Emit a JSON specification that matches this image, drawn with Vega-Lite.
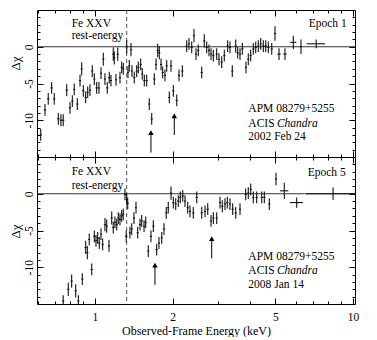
{
  "$schema": "https://vega.github.io/schema/vega-lite/v6.json",
  "padding": {"left": 8, "top": 9, "right": 0, "bottom": 0},
  "background": "white",
  "spacing": 0,
  "bounds": "flush",
  "config": {
    "view": {"stroke": "#000", "strokeWidth": 1},
    "axis": {"grid": false, "domain": false, "tickColor": "#000", "tickWidth": 1, "labelFont": "Liberation Serif", "labelFontSize": 11.5, "labelColor": "#000", "titleFont": "Liberation Serif", "titleFontSize": 12, "titleFontWeight": "normal", "titleColor": "#000", "labelFlush": false, "labelOverlap": false, "labelBound": false},
    "text": {"font": "Liberation Serif", "fontSize": 11.5, "color": "#000"}
  },
  "datasets": {
    "top": [
      {"e":0.616,"ex":0.007,"d":-12.0,"dy":0.8},{"e":0.640,"ex":0.007,"d":-8.6,"dy":0.8},{"e":0.659,"ex":0.007,"d":-7.1,"dy":0.8},{"e":0.679,"ex":0.007,"d":-5.6,"dy":0.8},{"e":0.695,"ex":0.007,"d":-7.1,"dy":0.8},{"e":0.721,"ex":0.008,"d":-9.8,"dy":0.8},{"e":0.738,"ex":0.008,"d":-10.0,"dy":0.8},{"e":0.753,"ex":0.008,"d":-10.0,"dy":0.8},{"e":0.777,"ex":0.008,"d":-5.9,"dy":0.8},{"e":0.800,"ex":0.008,"d":-8.3,"dy":0.8},{"e":0.817,"ex":0.008,"d":-7.4,"dy":0.8},{"e":0.831,"ex":0.008,"d":-5.8,"dy":0.8},{"e":0.854,"ex":0.008,"d":-7.8,"dy":0.8},{"e":0.875,"ex":0.008,"d":-4.6,"dy":0.8},{"e":0.888,"ex":0.008,"d":-3.0,"dy":0.9},{"e":0.901,"ex":0.009,"d":-6.0,"dy":0.8},{"e":0.920,"ex":0.009,"d":-6.9,"dy":0.8},{"e":0.937,"ex":0.009,"d":-6.2,"dy":0.8},{"e":0.956,"ex":0.009,"d":-5.9,"dy":0.8},{"e":0.976,"ex":0.009,"d":-3.3,"dy":0.8},{"e":0.994,"ex":0.009,"d":-4.4,"dy":0.8},{"e":1.015,"ex":0.01,"d":-5.6,"dy":0.8},{"e":1.036,"ex":0.01,"d":-5.6,"dy":0.8},{"e":1.055,"ex":0.01,"d":-3.6,"dy":0.8},{"e":1.077,"ex":0.01,"d":-1.7,"dy":0.9},{"e":1.093,"ex":0.01,"d":-4.4,"dy":0.8},{"e":1.116,"ex":0.011,"d":-5.6,"dy":0.8},{"e":1.136,"ex":0.011,"d":-4.2,"dy":0.8},{"e":1.153,"ex":0.011,"d":-4.6,"dy":0.8},{"e":1.177,"ex":0.011,"d":-1.0,"dy":0.9},{"e":1.188,"ex":0.011,"d":-1.5,"dy":0.9},{"e":1.206,"ex":0.011,"d":-4.5,"dy":0.8},{"e":1.225,"ex":0.012,"d":-1.0,"dy":0.9},{"e":1.250,"ex":0.012,"d":-4.2,"dy":0.8},{"e":1.269,"ex":0.012,"d":-2.8,"dy":0.8},{"e":1.287,"ex":0.012,"d":-3.0,"dy":0.8},{"e":1.327,"ex":0.012,"d":0.0,"dy":0.9},{"e":1.342,"ex":0.013,"d":-3.5,"dy":0.8},{"e":1.358,"ex":0.013,"d":-2.6,"dy":0.8},{"e":1.379,"ex":0.013,"d":-0.4,"dy":0.9},{"e":1.391,"ex":0.013,"d":-3.3,"dy":0.8},{"e":1.420,"ex":0.013,"d":-4.2,"dy":0.8},{"e":1.451,"ex":0.014,"d":-3.3,"dy":0.8},{"e":1.472,"ex":0.014,"d":-2.8,"dy":0.8},{"e":1.503,"ex":0.014,"d":-2.4,"dy":0.8},{"e":1.525,"ex":0.014,"d":-3.7,"dy":0.8},{"e":1.553,"ex":0.015,"d":-4.6,"dy":0.8},{"e":1.586,"ex":0.015,"d":-4.6,"dy":0.8},{"e":1.623,"ex":0.015,"d":-7.8,"dy":0.8},{"e":1.659,"ex":0.016,"d":-9.8,"dy":0.8},{"e":1.698,"ex":0.016,"d":-4.4,"dy":0.8},{"e":1.724,"ex":0.016,"d":-2.4,"dy":0.8},{"e":1.750,"ex":0.017,"d":-0.5,"dy":0.9},{"e":1.775,"ex":0.017,"d":-0.8,"dy":0.9},{"e":1.803,"ex":0.017,"d":-2.4,"dy":0.8},{"e":1.829,"ex":0.017,"d":-3.5,"dy":0.8},{"e":1.867,"ex":0.018,"d":-3.9,"dy":0.8},{"e":1.896,"ex":0.018,"d":-2.6,"dy":0.8},{"e":1.941,"ex":0.018,"d":-6.9,"dy":0.8},{"e":1.971,"ex":0.019,"d":-2.6,"dy":0.8},{"e":2.012,"ex":0.019,"d":-6.0,"dy":0.8},{"e":2.074,"ex":0.02,"d":-7.3,"dy":0.8},{"e":2.117,"ex":0.02,"d":-3.9,"dy":0.8},{"e":2.180,"ex":0.021,"d":-3.3,"dy":0.8},{"e":2.267,"ex":0.022,"d":0.1,"dy":0.8},{"e":2.314,"ex":0.022,"d":0.4,"dy":0.8},{"e":2.371,"ex":0.023,"d":-0.1,"dy":0.8},{"e":2.419,"ex":0.023,"d":1.5,"dy":0.9},{"e":2.463,"ex":0.024,"d":-1.0,"dy":0.8},{"e":2.514,"ex":0.024,"d":-0.5,"dy":0.8},{"e":2.592,"ex":0.025,"d":-3.5,"dy":0.8},{"e":2.652,"ex":0.025,"d":0.8,"dy":0.9},{"e":2.710,"ex":0.026,"d":-0.1,"dy":0.8},{"e":2.766,"ex":0.026,"d":-0.5,"dy":0.8},{"e":2.817,"ex":0.027,"d":-1.0,"dy":0.8},{"e":2.875,"ex":0.027,"d":-1.2,"dy":0.8},{"e":2.963,"ex":0.028,"d":-1.0,"dy":0.8},{"e":3.024,"ex":0.029,"d":-1.7,"dy":0.8},{"e":3.098,"ex":0.03,"d":-2.1,"dy":0.8},{"e":3.171,"ex":0.03,"d":-1.2,"dy":0.8},{"e":3.268,"ex":0.031,"d":0.1,"dy":0.8},{"e":3.336,"ex":0.032,"d":-0.1,"dy":0.8},{"e":3.405,"ex":0.032,"d":-3.3,"dy":0.8},{"e":3.511,"ex":0.033,"d":0.1,"dy":0.9},{"e":3.574,"ex":0.034,"d":-0.8,"dy":0.8},{"e":3.648,"ex":0.035,"d":-1.0,"dy":0.8},{"e":3.724,"ex":0.035,"d":-0.3,"dy":0.8},{"e":3.848,"ex":0.037,"d":-2.8,"dy":0.8},{"e":3.928,"ex":0.037,"d":-1.7,"dy":0.8},{"e":4.013,"ex":0.038,"d":-1.2,"dy":0.8},{"e":4.108,"ex":0.039,"d":-0.3,"dy":0.8},{"e":4.197,"ex":0.04,"d":-0.1,"dy":0.8},{"e":4.296,"ex":0.041,"d":0.1,"dy":0.8},{"e":4.389,"ex":0.042,"d":0.4,"dy":0.8},{"e":4.492,"ex":0.043,"d":0.1,"dy":0.8},{"e":4.589,"ex":0.044,"d":0.1,"dy":0.8},{"e":4.696,"ex":0.045,"d":-0.1,"dy":0.8},{"e":4.842,"ex":0.046,"d":-0.3,"dy":0.8},{"e":4.985,"ex":0.047,"d":1.8,"dy":1.0},{"e":5.167,"ex":0.08,"d":-1.0,"dy":0.8},{"e":5.450,"ex":0.085,"d":-1.0,"dy":0.8},{"e":5.870,"ex":0.16,"d":0.6,"dy":0.9},{"e":6.287,"ex":0.06,"d":0.0,"dy":1.0},{"e":7.200,"ex":0.59,"d":0.4,"dy":0.6}
    ],
    "bot": [
      {"e":0.753,"ex":0.008,"d":-14.6,"dy":0.8},{"e":0.788,"ex":0.008,"d":-13.0,"dy":0.9},{"e":0.812,"ex":0.008,"d":-11.9,"dy":0.9},{"e":0.842,"ex":0.008,"d":-13.2,"dy":0.9},{"e":0.862,"ex":0.008,"d":-14.6,"dy":0.8},{"e":0.893,"ex":0.009,"d":-11.6,"dy":0.8},{"e":0.920,"ex":0.009,"d":-7.3,"dy":0.9},{"e":0.934,"ex":0.009,"d":-8.0,"dy":0.9},{"e":0.950,"ex":0.009,"d":-6.2,"dy":0.8},{"e":0.971,"ex":0.009,"d":-10.3,"dy":0.8},{"e":0.994,"ex":0.01,"d":-5.8,"dy":0.8},{"e":1.009,"ex":0.01,"d":-6.4,"dy":0.8},{"e":1.024,"ex":0.01,"d":-6.0,"dy":0.8},{"e":1.039,"ex":0.01,"d":-6.7,"dy":0.8},{"e":1.055,"ex":0.01,"d":-5.5,"dy":0.8},{"e":1.071,"ex":0.01,"d":-6.9,"dy":0.8},{"e":1.093,"ex":0.011,"d":-4.2,"dy":0.9},{"e":1.110,"ex":0.011,"d":-4.4,"dy":0.9},{"e":1.133,"ex":0.011,"d":-7.1,"dy":0.8},{"e":1.161,"ex":0.011,"d":-3.3,"dy":0.9},{"e":1.177,"ex":0.011,"d":-4.6,"dy":0.8},{"e":1.195,"ex":0.012,"d":-3.9,"dy":0.8},{"e":1.214,"ex":0.012,"d":-4.2,"dy":0.8},{"e":1.231,"ex":0.012,"d":-3.3,"dy":0.8},{"e":1.250,"ex":0.012,"d":-3.5,"dy":0.8},{"e":1.269,"ex":0.012,"d":-3.0,"dy":0.8},{"e":1.287,"ex":0.012,"d":-2.8,"dy":0.8},{"e":1.307,"ex":0.013,"d":-0.1,"dy":0.8},{"e":1.321,"ex":0.013,"d":-5.8,"dy":0.8},{"e":1.327,"ex":0.013,"d":-0.8,"dy":0.8},{"e":1.339,"ex":0.013,"d":-1.3,"dy":0.8},{"e":1.366,"ex":0.013,"d":-5.3,"dy":0.8},{"e":1.388,"ex":0.013,"d":-4.8,"dy":0.8},{"e":1.416,"ex":0.014,"d":-3.3,"dy":0.8},{"e":1.442,"ex":0.014,"d":-1.9,"dy":0.8},{"e":1.464,"ex":0.014,"d":-5.3,"dy":0.8},{"e":1.494,"ex":0.014,"d":-4.2,"dy":0.8},{"e":1.517,"ex":0.015,"d":-3.7,"dy":0.8},{"e":1.549,"ex":0.015,"d":-4.4,"dy":0.8},{"e":1.572,"ex":0.015,"d":-3.9,"dy":0.8},{"e":1.609,"ex":0.015,"d":-7.8,"dy":0.8},{"e":1.648,"ex":0.016,"d":-5.8,"dy":0.8},{"e":1.683,"ex":0.016,"d":-4.4,"dy":0.8},{"e":1.734,"ex":0.017,"d":-7.6,"dy":0.8},{"e":1.770,"ex":0.017,"d":-6.7,"dy":0.8},{"e":1.814,"ex":0.017,"d":-6.0,"dy":0.8},{"e":1.851,"ex":0.018,"d":-4.8,"dy":0.8},{"e":1.889,"ex":0.018,"d":-2.6,"dy":0.8},{"e":1.923,"ex":0.018,"d":-1.9,"dy":0.8},{"e":1.971,"ex":0.019,"d":0.1,"dy":0.9},{"e":2.012,"ex":0.019,"d":-1.2,"dy":0.8},{"e":2.055,"ex":0.02,"d":-1.4,"dy":0.8},{"e":2.103,"ex":0.02,"d":-1.0,"dy":0.8},{"e":2.141,"ex":0.021,"d":-0.5,"dy":0.8},{"e":2.188,"ex":0.021,"d":-0.3,"dy":0.8},{"e":2.233,"ex":0.021,"d":-1.0,"dy":0.8},{"e":2.287,"ex":0.022,"d":-1.9,"dy":0.8},{"e":2.334,"ex":0.022,"d":-2.4,"dy":0.8},{"e":2.404,"ex":0.023,"d":-2.6,"dy":0.8},{"e":2.479,"ex":0.024,"d":-0.5,"dy":0.8},{"e":2.592,"ex":0.025,"d":-2.6,"dy":0.8},{"e":2.670,"ex":0.026,"d":-2.4,"dy":0.8},{"e":2.735,"ex":0.026,"d":-2.1,"dy":0.8},{"e":2.817,"ex":0.027,"d":-3.7,"dy":0.8},{"e":2.875,"ex":0.027,"d":-3.3,"dy":0.8},{"e":2.963,"ex":0.028,"d":-3.3,"dy":0.8},{"e":3.052,"ex":0.029,"d":-1.2,"dy":0.8},{"e":3.115,"ex":0.03,"d":-1.7,"dy":0.8},{"e":3.190,"ex":0.03,"d":-1.4,"dy":0.8},{"e":3.257,"ex":0.031,"d":-1.2,"dy":0.8},{"e":3.336,"ex":0.032,"d":-1.4,"dy":0.8},{"e":3.417,"ex":0.033,"d":-2.1,"dy":0.8},{"e":3.511,"ex":0.034,"d":-2.6,"dy":0.8},{"e":3.648,"ex":0.035,"d":-2.1,"dy":0.8},{"e":3.838,"ex":0.037,"d":-0.1,"dy":0.8},{"e":3.928,"ex":0.037,"d":0.1,"dy":0.8},{"e":4.013,"ex":0.038,"d":0.6,"dy":0.8},{"e":4.108,"ex":0.039,"d":-0.5,"dy":0.8},{"e":4.234,"ex":0.04,"d":-0.5,"dy":0.8},{"e":4.428,"ex":0.042,"d":-0.5,"dy":0.8},{"e":4.532,"ex":0.043,"d":-0.5,"dy":0.8},{"e":4.738,"ex":0.045,"d":-1.4,"dy":0.8},{"e":5.030,"ex":0.05,"d":2.0,"dy":0.85},{"e":5.417,"ex":0.2,"d":0.4,"dy":1.1},{"e":6.050,"ex":0.35,"d":-1.2,"dy":0.7},{"e":8.370,"ex":1.8,"d":0.0,"dy":0.85}
    ],
    "topArrows": [{"e":1.648,"d1":-14.4,"d2":-11.7},{"e":2.029,"d1":-12.0,"d2":-9.4}],
    "botArrows": [{"e":1.708,"d1":-12.4,"d2":-9.7},{"e":2.834,"d1":-8.8,"d2":-6.1}],
    "topText": [{"e":0.812,"d":2.72,"t":"Fe XXV"},{"e":0.812,"d":1.05,"t":"rest-energy"},{"e":3.93,"d":-8.94,"t":"APM 08279+5255"},{"e":3.93,"d":-10.88,"t":"ACIS"},{"e":3.93,"d":-12.7,"t":"2002 Feb 24"}],
    "topItal": [{"e":5.07,"d":-10.88,"t":"Chandra"}],
    "topRight": [{"e":9.45,"d":2.63,"t":"Epoch 1"}],
    "botText": [{"e":0.812,"d":2.54,"t":"Fe XXV"},{"e":0.812,"d":0.6,"t":"rest-energy"},{"e":3.93,"d":-9.07,"t":"APM 08279+5255"},{"e":3.93,"d":-10.97,"t":"ACIS"},{"e":3.93,"d":-12.8,"t":"2008 Jan 14"}],
    "botItal": [{"e":5.07,"d":-10.97,"t":"Chandra"}],
    "botRight": [{"e":9.37,"d":2.4,"t":"Epoch 5"}],
    "zero": [{"d":0}],
    "fe": [{"e":1.327}]
  },
  "vconcat": [
    {
      "width": 318, "height": 147,
      "resolve": {"axis": {"x": "independent", "y": "independent"}},
      "layer": [
        {"data": {"name": "fe"}, "mark": {"type": "rule", "color": "#555", "strokeDash": [4, 3], "strokeWidth": 1},
         "encoding": {"x": {"field": "e", "type": "quantitative", "scale": {"type": "log", "domain": [0.596, 10.18], "nice": false}, "axis": null}}},
        {"data": {"name": "zero"}, "mark": {"type": "rule", "color": "#333", "strokeWidth": 1},
         "encoding": {"y": {"field": "d", "type": "quantitative", "scale": {"domain": [-15, 5], "nice": false, "zero": false}, "axis": null}}},
        {"data": {"name": "top"}, "mark": {"type": "errorbar", "clip": true, "color": "#111", "thickness": 1.1},
         "encoding": {
           "x": {"field": "e", "type": "quantitative", "scale": {"type": "log", "domain": [0.596, 10.18], "nice": false},
                 "axis": {"orient": "bottom", "values": [1, 2, 5, 10], "tickSize": 6, "offset": -6, "labels": false, "title": null}},
           "y": {"field": "d", "type": "quantitative", "scale": {"domain": [-15, 5], "nice": false, "zero": false},
                 "axis": {"orient": "left", "values": [-10, -5, 0], "tickSize": 6, "offset": -6, "labelAngle": -90, "labelAlign": "center", "labelBaseline": "alphabetic", "labelPadding": 5, "labelExpr": "'' + datum.value", "title": "Δχ", "titleFontSize": 13, "titleAngle": -90, "titleAlign": "center", "titleBaseline": "middle", "titleX": -28, "titleY": 53}},
           "yError": {"field": "dy"}}},
        {"data": {"name": "top"}, "mark": {"type": "errorbar", "clip": true, "color": "#111", "thickness": 1.1},
         "encoding": {
           "x": {"field": "e", "type": "quantitative", "scale": {"type": "log", "domain": [0.596, 10.18], "nice": false},
                 "axis": {"orient": "bottom", "values": [0.6, 0.7, 0.8, 0.9, 3, 4, 6, 7, 8, 9], "tickSize": 3, "offset": -3, "labels": false, "title": null}},
           "xError": {"field": "ex"},
           "y": {"field": "d", "type": "quantitative", "scale": {"domain": [-15, 5], "nice": false, "zero": false},
                 "axis": {"orient": "left", "values": [-14, -13, -12, -11, -9, -8, -7, -6, -4, -3, -2, -1, 1, 2, 3, 4], "tickSize": 3, "offset": -3, "labels": false, "title": null}}}},
        {"data": {"name": "topArrows"}, "mark": {"type": "rule", "color": "#000", "strokeWidth": 1},
         "encoding": {
           "x": {"field": "e", "type": "quantitative", "scale": {"type": "log", "domain": [0.596, 10.18], "nice": false},
                 "axis": {"orient": "top", "values": [1, 2, 5, 10], "tickSize": 6, "offset": -6, "labels": false, "title": null}},
           "y": {"field": "d1", "type": "quantitative", "scale": {"domain": [-15, 5], "nice": false, "zero": false},
                 "axis": {"orient": "right", "values": [-10, -5, 0], "tickSize": 6, "offset": -6, "labels": false, "title": null}},
           "y2": {"field": "d2"}}},
        {"data": {"name": "topArrows"}, "mark": {"type": "point", "shape": "triangle-up", "filled": true, "color": "#000", "size": 30, "opacity": 1},
         "encoding": {
           "x": {"field": "e", "type": "quantitative", "scale": {"type": "log", "domain": [0.596, 10.18], "nice": false},
                 "axis": {"orient": "top", "values": [0.6, 0.7, 0.8, 0.9, 3, 4, 6, 7, 8, 9], "tickSize": 3, "offset": -3, "labels": false, "title": null}},
           "y": {"field": "d2", "type": "quantitative", "scale": {"domain": [-15, 5], "nice": false, "zero": false},
                 "axis": {"orient": "right", "values": [-14, -13, -12, -11, -9, -8, -7, -6, -4, -3, -2, -1, 1, 2, 3, 4], "tickSize": 3, "offset": -3, "labels": false, "title": null}}}},
        {"data": {"name": "topText"}, "mark": {"type": "text", "align": "left", "baseline": "alphabetic"},
         "encoding": {"x": {"field": "e", "type": "quantitative", "axis": null}, "y": {"field": "d", "type": "quantitative", "axis": null}, "text": {"field": "t"}}},
        {"data": {"name": "topItal"}, "mark": {"type": "text", "align": "left", "baseline": "alphabetic", "fontStyle": "italic"},
         "encoding": {"x": {"field": "e", "type": "quantitative", "axis": null}, "y": {"field": "d", "type": "quantitative", "axis": null}, "text": {"field": "t"}}},
        {"data": {"name": "topRight"}, "mark": {"type": "text", "align": "right", "baseline": "alphabetic"},
         "encoding": {"x": {"field": "e", "type": "quantitative", "axis": null}, "y": {"field": "d", "type": "quantitative", "axis": null}, "text": {"field": "t"}}}
      ]
    },
    {
      "width": 318, "height": 147,
      "resolve": {"axis": {"x": "independent", "y": "independent"}},
      "layer": [
        {"data": {"name": "fe"}, "mark": {"type": "rule", "color": "#555", "strokeDash": [4, 3], "strokeWidth": 1},
         "encoding": {"x": {"field": "e", "type": "quantitative", "scale": {"type": "log", "domain": [0.596, 10.18], "nice": false}, "axis": null}}},
        {"data": {"name": "zero"}, "mark": {"type": "rule", "color": "#333", "strokeWidth": 1},
         "encoding": {"y": {"field": "d", "type": "quantitative", "scale": {"domain": [-15, 5], "nice": false, "zero": false}, "axis": null}}},
        {"data": {"name": "bot"}, "mark": {"type": "errorbar", "clip": true, "color": "#111", "thickness": 1.1},
         "encoding": {
           "x": {"field": "e", "type": "quantitative", "scale": {"type": "log", "domain": [0.596, 10.18], "nice": false},
                 "axis": {"orient": "bottom", "values": [1, 2, 5, 10], "tickSize": 6, "offset": -6, "labels": true, "labelExpr": "'' + datum.value", "labelPadding": 7, "labelBaseline": "top", "title": "Observed-Frame Energy (keV)", "titleBaseline": "alphabetic", "titleY": 36}},
           "y": {"field": "d", "type": "quantitative", "scale": {"domain": [-15, 5], "nice": false, "zero": false},
                 "axis": {"orient": "left", "values": [-10, -5, 0], "tickSize": 6, "offset": -6, "labelAngle": -90, "labelAlign": "center", "labelBaseline": "alphabetic", "labelPadding": 5, "labelExpr": "'' + datum.value", "title": "Δχ", "titleFontSize": 13, "titleAngle": -90, "titleAlign": "center", "titleBaseline": "middle", "titleX": -28, "titleY": 74}},
           "yError": {"field": "dy"}}},
        {"data": {"name": "bot"}, "mark": {"type": "errorbar", "clip": true, "color": "#111", "thickness": 1.1},
         "encoding": {
           "x": {"field": "e", "type": "quantitative", "scale": {"type": "log", "domain": [0.596, 10.18], "nice": false},
                 "axis": {"orient": "bottom", "values": [0.6, 0.7, 0.8, 0.9, 3, 4, 6, 7, 8, 9], "tickSize": 3, "offset": -3, "labels": false, "title": null}},
           "xError": {"field": "ex"},
           "y": {"field": "d", "type": "quantitative", "scale": {"domain": [-15, 5], "nice": false, "zero": false},
                 "axis": {"orient": "left", "values": [-14, -13, -12, -11, -9, -8, -7, -6, -4, -3, -2, -1, 1, 2, 3, 4], "tickSize": 3, "offset": -3, "labels": false, "title": null}}}},
        {"data": {"name": "botArrows"}, "mark": {"type": "rule", "color": "#000", "strokeWidth": 1},
         "encoding": {
           "x": {"field": "e", "type": "quantitative", "scale": {"type": "log", "domain": [0.596, 10.18], "nice": false},
                 "axis": {"orient": "top", "values": [1, 2, 5, 10], "tickSize": 6, "offset": -6, "labels": false, "title": null}},
           "y": {"field": "d1", "type": "quantitative", "scale": {"domain": [-15, 5], "nice": false, "zero": false},
                 "axis": {"orient": "right", "values": [-10, -5, 0], "tickSize": 6, "offset": -6, "labels": false, "title": null}},
           "y2": {"field": "d2"}}},
        {"data": {"name": "botArrows"}, "mark": {"type": "point", "shape": "triangle-up", "filled": true, "color": "#000", "size": 30, "opacity": 1},
         "encoding": {
           "x": {"field": "e", "type": "quantitative", "scale": {"type": "log", "domain": [0.596, 10.18], "nice": false},
                 "axis": {"orient": "top", "values": [0.6, 0.7, 0.8, 0.9, 3, 4, 6, 7, 8, 9], "tickSize": 3, "offset": -3, "labels": false, "title": null}},
           "y": {"field": "d2", "type": "quantitative", "scale": {"domain": [-15, 5], "nice": false, "zero": false},
                 "axis": {"orient": "right", "values": [-14, -13, -12, -11, -9, -8, -7, -6, -4, -3, -2, -1, 1, 2, 3, 4], "tickSize": 3, "offset": -3, "labels": false, "title": null}}}},
        {"data": {"name": "botText"}, "mark": {"type": "text", "align": "left", "baseline": "alphabetic"},
         "encoding": {"x": {"field": "e", "type": "quantitative", "axis": null}, "y": {"field": "d", "type": "quantitative", "axis": null}, "text": {"field": "t"}}},
        {"data": {"name": "botItal"}, "mark": {"type": "text", "align": "left", "baseline": "alphabetic", "fontStyle": "italic"},
         "encoding": {"x": {"field": "e", "type": "quantitative", "axis": null}, "y": {"field": "d", "type": "quantitative", "axis": null}, "text": {"field": "t"}}},
        {"data": {"name": "botRight"}, "mark": {"type": "text", "align": "right", "baseline": "alphabetic"},
         "encoding": {"x": {"field": "e", "type": "quantitative", "axis": null}, "y": {"field": "d", "type": "quantitative", "axis": null}, "text": {"field": "t"}}}
      ]
    }
  ]
}
